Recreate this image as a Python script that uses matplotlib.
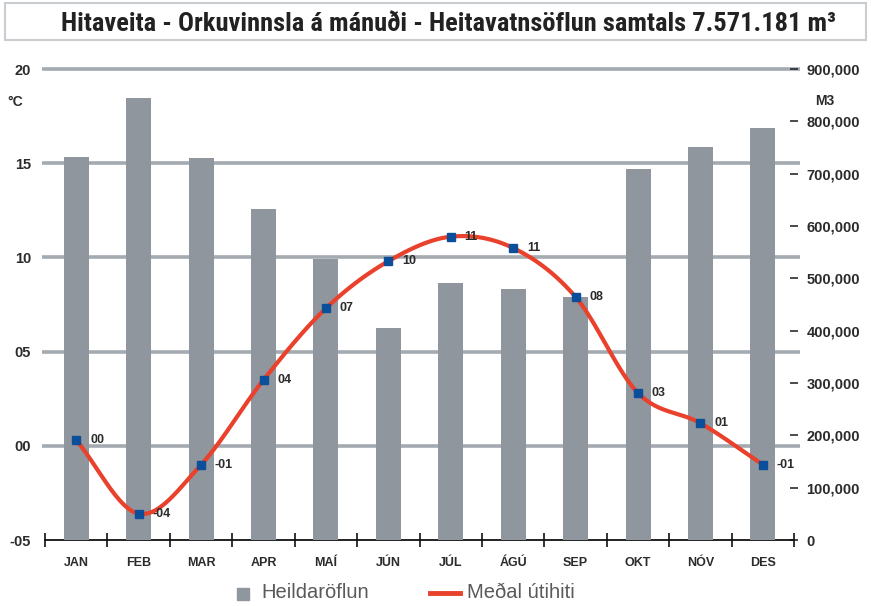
import numpy as np
import matplotlib
matplotlib.use("Agg")
import matplotlib.pyplot as plt
from matplotlib import font_manager
from matplotlib.patches import Rectangle
from matplotlib.lines import Line2D
from matplotlib.ticker import FuncFormatter

months = ["JAN", "FEB", "MAR", "APR", "MAÍ", "JÚN", "JÚL", "ÁGÚ", "SEP", "OKT", "NÓV", "DES"]
flow_m3 = [732000, 845000, 730000, 632000, 537000, 405000, 491000, 480000, 464000, 709000, 751000, 787000]
temp_c = [0.3, -3.6, -1.0, 3.5, 7.3, 9.8, 11.1, 10.5, 7.9, 2.8, 1.2, -1.0]
temp_labels = ["00", "-04", "-01", "04", "07", "10", "11", "11", "08", "03", "01", "-01"]
left_ticks = [-5, 0, 5, 10, 15, 20]
left_ticklabels = ["-05", "00", "05", "10", "15", "20"]
title = "Hitaveita - Orkuvinnsla á mánuði - Heitavatnsöflun samtals 7.571.181 m³"

BAR = "#8f969d"
GRID = "#a3aab0"
RED = "#e9412b"
BLUE = "#0b4f9a"
TXT = "#2b2b2b"

plt.rcParams["font.family"] = ["Liberation Sans", "DejaVu Sans"]

installed = {f.name for f in font_manager.fontManager.ttflist}
narrow = [n for n in ("Liberation Sans Narrow", "Roboto Condensed", "Open Sans Condensed",
                      "DejaVu Sans Condensed") if n in installed]
title_family = narrow + ["Roboto", "DejaVu Sans"]


def smooth(xs, ys, n=30):
    # Catmull-Rom through the points, roughly what the spreadsheet "smoothed line" does
    xs = np.asarray(xs, float)
    ys = np.asarray(ys, float)
    px = np.concatenate([[2 * xs[0] - xs[1]], xs, [2 * xs[-1] - xs[-2]]])
    py = np.concatenate([[2 * ys[0] - ys[1]], ys, [2 * ys[-1] - ys[-2]]])
    out_x, out_y = [], []
    t = np.linspace(0, 1, n)
    for i in range(1, len(px) - 2):
        for arr, out in ((px, out_x), (py, out_y)):
            p0, p1, p2, p3 = arr[i - 1], arr[i], arr[i + 1], arr[i + 2]
            out.extend(0.5 * (2 * p1 + (-p0 + p2) * t + (2 * p0 - 5 * p1 + 4 * p2 - p3) * t ** 2
                              + (-p0 + 3 * p1 - 3 * p2 + p3) * t ** 3))
    return np.array(out_x), np.array(out_y)


fig = plt.figure(figsize=(8.71, 6.06), dpi=100)
ax2 = fig.add_axes([0.0517, 0.1089, 0.86, 0.7772])
ax = ax2.twinx()
ax.set_zorder(3)
ax2.set_zorder(2)
ax.patch.set_visible(False)

x = np.arange(len(months))

# bars on the right (m3) axis
ax2.bar(x, flow_m3, width=0.4, color=BAR, zorder=3)
ax2.set_ylim(0, 900000)
ax2.set_xlim(-0.5, len(months) - 0.5)

# left temperature axis lives on the twin so the line is drawn over bars
ax.set_ylim(-5, 20)
ax.yaxis.set_label_position("left")
ax.yaxis.tick_left()
ax2.yaxis.tick_right()
ax2.yaxis.set_label_position("right")

for v in left_ticks[1:]:
    ax2.plot([-0.004, 1.008], [(v + 5) / 25] * 2, transform=ax2.transAxes,
             color=GRID, lw=2.6, zorder=1, clip_on=False, solid_capstyle="butt")

sx, sy = smooth(x, temp_c)
ax.plot(sx, sy, color=RED, lw=3, zorder=4, solid_capstyle="round")
ax.plot(x, temp_c, ls="none", marker="s", ms=5.5, color=BLUE, zorder=5)
for xi, yi, lab in zip(x, temp_c, temp_labels):
    ax.annotate(lab, (xi, yi), xytext=(10, 0), textcoords="offset points",
                ha="left", va="center", fontsize=9, fontweight="bold", color=TXT, zorder=6)

ax.set_yticks(left_ticks)
ax.set_yticklabels(left_ticklabels)
ax.tick_params(axis="y", length=0, pad=10, labelsize=10.5, labelcolor=TXT)
for lab in ax.get_yticklabels():
    lab.set_fontweight("bold")

ax2.set_yticks(range(0, 900001, 100000))
ax2.yaxis.set_major_formatter(FuncFormatter(lambda v, p: f"{int(v):,}"))
ax2.tick_params(axis="y", direction="inout", length=6, width=1.2, color=TXT,
                pad=6, labelsize=10.5, labelcolor=TXT)
for lab in ax2.get_yticklabels():
    lab.set_fontweight("bold")

ax2.set_xticks(x)
ax2.set_xticklabels(months)
ax2.tick_params(axis="x", length=0, pad=12, labelsize=9, labelcolor=TXT)
for lab in ax2.get_xticklabels():
    lab.set_fontweight("bold")
ax2.set_xticks(np.arange(-0.5, len(months)), minor=True)
ax2.tick_params(axis="x", which="minor", direction="inout", length=10, width=1.2, color="#111")

for a in (ax, ax2):
    for s in ("top", "left", "right"):
        a.spines[s].set_visible(False)
ax.spines["bottom"].set_visible(False)
ax2.spines["bottom"].set_color("#111")
ax2.spines["bottom"].set_linewidth(1.3)

fig.text(7 / 871, 1 - 102 / 606, "°C", fontsize=10, fontweight="bold", color=TXT, va="center")
fig.text(815 / 871, 1 - 101 / 606, "M3", fontsize=10, fontweight="bold", color=TXT, va="center")

# title box
fig.add_artist(Rectangle((5 / 871, 1 - 40 / 606), 861 / 871, 37 / 606, transform=fig.transFigure,
                         facecolor="white", edgecolor="#c9cdd1", lw=1.5))
t = fig.text(448 / 871, 1 - 24 / 606, title, ha="center", va="center", fontsize=19,
             fontweight="bold", color="#222", family=title_family)
# shrink to the width the title has in the original box
renderer = fig.canvas.get_renderer()
w = t.get_window_extent(renderer).width
if w > 810:
    t.set_fontsize(19 * 810 / w)

# legend
ly = 1 - 593 / 606
fig.add_artist(Rectangle((237 / 871, 1 - 600 / 606), 12 / 871, 12 / 606,
                         transform=fig.transFigure, color=BAR))
fig.text(261 / 871, ly, "Heildaröflun", fontsize=14.5, color="#5a5a5a", va="center")
fig.add_artist(Line2D([430 / 871, 460 / 871], [ly, ly], transform=fig.transFigure, color=RED, lw=3.5))
fig.text(467 / 871, ly, "Meðal útihiti", fontsize=14.5, color="#5a5a5a", va="center")

fig.savefig("out.png", dpi=100)
